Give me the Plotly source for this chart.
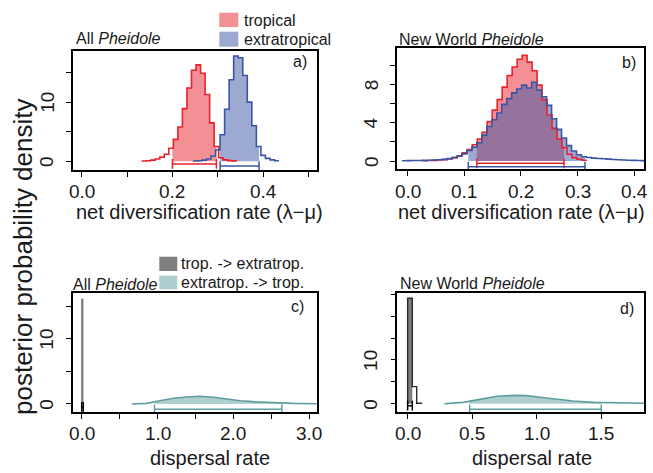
import numpy as np
import plotly.graph_objects as go

W, H = 653, 473

# ---------------- data ----------------
# Panel a (All Pheidole): net diversification posterior histograms
a_bin = 0.01
a_trop_start = 0.132
a_trop_dens = [0.05, 0.1, 0.2, 0.4, 0.7, 1.2, 2.2, 3.7, 5.8, 8.9, 12.4, 15.4, 16.3,
               14.9, 11.3, 6.5, 2.5, 0.6, 0.25, 0.12, 0.08]
a_extra_start = 0.245
a_extra_dens = [0.05, 0.1, 0.2, 0.4, 0.9, 1.9, 4.5, 8.8, 13.8, 17.8, 17.5, 14.5,
                10.0, 6.0, 2.5, 1.0, 0.5, 0.25, 0.1]
a_trop_hpd = [0.200, 0.297]
a_extra_hpd = [0.305, 0.391]

# Panel b (New World Pheidole)
b_bin = 0.0088
b_trop_start = 0.026
b_trop_dens = [0.03, 0.05, 0.07, 0.1, 0.15, 0.22, 0.35, 0.55, 0.85, 1.2, 1.7, 2.3,
               3.0, 4.1, 5.3, 6.4, 7.7, 8.9, 9.8, 10.6, 11.0, 10.3, 9.4, 7.9, 6.4,
               4.8, 3.4, 2.3, 1.4, 0.7, 0.35, 0.18, 0.08]
b_extra_start = -0.010
b_extra_dens = [0.03, 0.04, 0.05, 0.06, 0.07, 0.08, 0.1, 0.13, 0.17, 0.25, 0.35,
                0.5, 0.75, 1.1, 1.45, 1.9, 2.7, 3.6, 4.3, 5.0, 5.9, 6.5, 7.1, 7.5,
                7.9, 7.6, 8.2, 7.4, 6.7, 5.8, 4.4, 3.3, 2.4, 1.6, 1.05, 0.65, 0.45,
                0.36, 0.3, 0.27, 0.23, 0.2, 0.16, 0.13, 0.1, 0.08, 0.07, 0.05, 0.04]
b_trop_hpd = [0.122, 0.276]
b_extra_hpd = [0.107, 0.313]

# Panel c (All Pheidole): dispersal rates
c_t2e_edges = [0.0, 0.015]
c_t2e_dens = [16.1]
c_t2e_hpd = [0.0, 0.02]
c_e2t_x = [0.66, 0.86, 1.03, 1.21, 1.385, 1.56, 1.74, 1.91, 2.09, 2.26, 2.44, 2.62, 2.79, 3.1, 3.3]
c_e2t_y = [0.0, 0.1, 0.5, 0.87, 1.08, 1.18, 1.03, 0.72, 0.5, 0.36, 0.26, 0.2, 0.1, 0.03, 0.01]
c_e2t_hpd = [0.96, 2.64]

# Panel d (New World Pheidole)
d_t2e_edges = [0.0, 0.036, 0.07, 0.108]
d_t2e_dens = [24.1, 3.9, 0.1]
d_t2e_hpd = [0.0, 0.036]
d_e2t_x = [0.284, 0.43, 0.56, 0.69, 0.82, 0.92, 1.025, 1.154, 1.28, 1.44, 1.59, 1.83, 2.0]
d_e2t_y = [0.0, 0.3, 1.0, 1.7, 1.9, 1.85, 1.46, 1.0, 0.62, 0.3, 0.15, 0.05, 0.02]
d_e2t_hpd = [0.48, 1.5]

# ticks
a_xticks = [0.0, 0.1, 0.2, 0.3, 0.4, 0.5]
a_xlabels = ["0.0", "", "0.2", "", "0.4", ""]
a_yticks = [0, 5, 10, 15]
a_ylabels = ["0", "", "10", ""]
b_xticks = [0.0, 0.1, 0.2, 0.3, 0.4]
b_xlabels = ["0.0", "0.1", "0.2", "0.3", "0.4"]
b_yticks = [0, 2, 4, 6, 8, 10]
b_ylabels = ["0", "", "4", "", "8", ""]
c_xticks = [0.0, 0.5, 1.0, 1.5, 2.0, 2.5, 3.0]
c_xlabels = ["0.0", "", "1.0", "", "2.0", "", "3.0"]
c_yticks = [0, 5, 10, 15]
c_ylabels = ["0", "", "10", ""]
d_xticks = [0.0, 0.5, 1.0, 1.5]
d_xlabels = ["0.0", "0.5", "1.0", "1.5"]
d_yticks = [0, 5, 10, 15, 20, 25]
d_ylabels = ["0", "", "10", "", "", ""]

# ---------------- styles ----------------
RED = "#e8222b"
BLUE = "#3a55a4"
RED_F = "rgba(232,34,43,0.5)"
BLUE_F = "rgba(58,85,164,0.5)"
TEAL = "#5f9ea0"
TEAL_F = "rgba(95,158,160,0.5)"
GRAY_F = "rgba(0,0,0,0.5)"
FONT = "Liberation Sans, Arial, sans-serif"
TXT = "#1a1a1a"


def edges_from(start, width, n):
    return [start + width * i for i in range(n + 1)]


def step_line(edges, dens):
    return list(edges), list(dens) + [dens[-1]]


def step_fill(edges, dens, lo, hi):
    def val(x):
        for i in range(len(dens)):
            if edges[i] <= x < edges[i + 1]:
                return dens[i]
        return dens[-1] if x >= edges[-1] else 0.0
    xs, ys = [lo], [val(lo)]
    for e in edges:
        if lo < e < hi:
            xs.append(e)
            ys.append(val(e))
    xs.append(hi)
    ys.append(ys[-1])
    return xs, ys


def smooth_fill(x, y, lo, hi):
    xs = [lo] + [v for v in x if lo < v < hi] + [hi]
    ys = list(np.interp(xs, x, y))
    return xs, ys


fig = go.Figure()


def add(tr, ax):
    tr.update(xaxis="x" + ax, yaxis="y" + ax, showlegend=False, hoverinfo="skip")
    fig.add_trace(tr)


def interval(lo, hi, yv, col, ax):
    add(go.Scatter(x=[lo, hi], y=[yv, yv], mode="lines+markers",
                   line=dict(color=col, width=1.5),
                   marker=dict(symbol="line-ns", size=7,
                               line=dict(color=col, width=1.5))), ax)


# panel a
ea_t = edges_from(a_trop_start, a_bin, len(a_trop_dens))
ea_e = edges_from(a_extra_start, a_bin, len(a_extra_dens))
for e, d, hpd, fc in [(ea_t, a_trop_dens, a_trop_hpd, RED_F), (ea_e, a_extra_dens, a_extra_hpd, BLUE_F)]:
    fx, fy = step_fill(e, d, *hpd)
    add(go.Scatter(x=fx, y=fy, mode="lines", line=dict(width=0, shape="hv"),
                   fill="tozeroy", fillcolor=fc), "")
for e, d, col in [(ea_t, a_trop_dens, RED), (ea_e, a_extra_dens, BLUE)]:
    lx, ly = step_line(e, d)
    add(go.Scatter(x=lx, y=ly, mode="lines", line=dict(color=col, width=1.6, shape="hv")), "")
interval(*a_trop_hpd, -0.45, RED, "")
interval(*a_extra_hpd, -0.80, BLUE, "")

# panel b
eb_t = edges_from(b_trop_start, b_bin, len(b_trop_dens))
eb_e = edges_from(b_extra_start, b_bin, len(b_extra_dens))
for e, d, hpd, fc in [(eb_t, b_trop_dens, b_trop_hpd, RED_F), (eb_e, b_extra_dens, b_extra_hpd, BLUE_F)]:
    fx, fy = step_fill(e, d, *hpd)
    add(go.Scatter(x=fx, y=fy, mode="lines", line=dict(width=0, shape="hv"),
                   fill="tozeroy", fillcolor=fc), "2")
for e, d, col in [(eb_t, b_trop_dens, RED), (eb_e, b_extra_dens, BLUE)]:
    lx, ly = step_line(e, d)
    add(go.Scatter(x=lx, y=ly, mode="lines", line=dict(color=col, width=1.6, shape="hv")), "2")
interval(*b_trop_hpd, -0.24, RED, "2")
interval(*b_extra_hpd, -0.59, BLUE, "2")

# panel c
fx, fy = smooth_fill(c_e2t_x, c_e2t_y, *c_e2t_hpd)
add(go.Scatter(x=fx, y=fy, mode="lines", line=dict(width=0), fill="tozeroy", fillcolor=TEAL_F), "3")
add(go.Scatter(x=c_e2t_x, y=c_e2t_y, mode="lines", line=dict(color=TEAL, width=1.6)), "3")
lx, ly = step_line(c_t2e_edges, c_t2e_dens)
add(go.Scatter(x=[lx[0]] + lx + [lx[-1]], y=[0] + ly + [0], mode="lines",
               line=dict(color="#808080", width=1.2, shape="hv"),
               fill="toself", fillcolor=GRAY_F), "3")
interval(*c_e2t_hpd, -0.82, TEAL, "3")
interval(*c_t2e_hpd, -0.45, "#000000", "3")

# panel d
fx, fy = smooth_fill(d_e2t_x, d_e2t_y, *d_e2t_hpd)
add(go.Scatter(x=fx, y=fy, mode="lines", line=dict(width=0), fill="tozeroy", fillcolor=TEAL_F), "4")
add(go.Scatter(x=d_e2t_x, y=d_e2t_y, mode="lines", line=dict(color=TEAL, width=1.6)), "4")
fx, fy = step_fill(d_t2e_edges, d_t2e_dens, *d_t2e_hpd)
add(go.Scatter(x=fx, y=fy, mode="lines", line=dict(width=0, shape="hv"),
               fill="tozeroy", fillcolor=GRAY_F), "4")
lx, ly = step_line(d_t2e_edges, d_t2e_dens)
add(go.Scatter(x=[lx[0]] + lx + [lx[-1]], y=[0] + ly + [0], mode="lines",
               line=dict(color="#2a2a2a", width=1.4, shape="hv")), "4")
interval(*d_e2t_hpd, -1.28, TEAL, "4")
interval(*d_t2e_hpd, -0.45, "#000000", "4")


def px_x(v):
    return v / W


def px_y(v):
    return 1 - v / H


def ax(dom, rng, tv):
    return dict(domain=dom, range=rng, tickvals=tv, showticklabels=False, showgrid=False,
                zeroline=False, showline=True, mirror=True, linecolor="black",
                linewidth=1.5, ticks="outside", ticklen=5, tickwidth=1.3,
                tickcolor="black")


dom_a_x = [px_x(72.7), px_x(316.7)]
dom_b_x = [px_x(396.7), px_x(644.3)]
dom_d_x = [px_x(397.3), px_x(644.3)]
dom_top_y_a = [px_y(170), px_y(50.7)]
dom_top_y_b = [px_y(169), px_y(48.3)]
dom_bot_y = [px_y(412.3), px_y(292.5)]

fig.update_layout(
    width=W, height=H, autosize=False,
    margin=dict(l=0, r=0, t=0, b=0),
    paper_bgcolor="white", plot_bgcolor="white",
    xaxis=dict(ax(dom_a_x, [-0.0198, 0.518], a_xticks), anchor="y"),
    yaxis=dict(ax(dom_top_y_a, [-1.47, 18.7], a_yticks), anchor="x"),
    xaxis2=dict(ax(dom_b_x, [-0.0194, 0.4177], b_xticks), anchor="y2"),
    yaxis2=dict(ax(dom_top_y_b, [-0.83, 11.74], b_yticks), anchor="x2"),
    xaxis3=dict(ax(dom_a_x, [-0.119, 3.1], c_xticks), anchor="y3"),
    yaxis3=dict(ax(dom_bot_y, [-1.28, 17.15], c_yticks), anchor="x3"),
    xaxis4=dict(ax(dom_d_x, [-0.08, 1.833], d_xticks), anchor="y4"),
    yaxis4=dict(ax(dom_bot_y, [-1.96, 25.4], d_yticks), anchor="x4"),
)

ann = []


def text(t, x, y, xa="left", size=16, angle=0, xref="paper", yref="paper"):
    ann.append(dict(text=t, x=px_x(x) if xref == "paper" else x,
                    y=px_y(y) if yref == "paper" else y, xref=xref, yref=yref,
                    xanchor=xa, yanchor="middle", showarrow=False, textangle=angle,
                    font=dict(family=FONT, size=size, color=TXT)))


# tick labels placed at the axes' own tick values
for suf, xt, xl, ypx in [("", a_xticks, a_xlabels, 191.5), ("2", b_xticks, b_xlabels, 191.5),
                         ("3", c_xticks, c_xlabels, 433.3), ("4", d_xticks, d_xlabels, 433.3)]:
    for v, lab in zip(xt, xl):
        if lab:
            text(lab, v, ypx, xa="center", size=19, xref="x" + suf)
for suf, yt, yl, xpx in [("", a_yticks, a_ylabels, 46.7), ("2", b_yticks, b_ylabels, 371),
                         ("3", c_yticks, c_ylabels, 46.7), ("4", d_yticks, d_ylabels, 371)]:
    for v, lab in zip(yt, yl):
        if lab:
            text(lab, xpx, v, xa="center", size=19, angle=-90, yref="y" + suf)

text("All <i>Pheidole</i>", 74, 38.3)
text("tropical", 242, 20)
text("extratropical", 242, 39)
text("a)", 309, 61.7, xa="right")
text("New World <i>Pheidole</i>", 397, 40)
text("b)", 638, 62.7, xa="right")
text("net diversification rate (λ−μ)", 199, 211.7, xa="center", size=20)
text("net diversification rate (λ−μ)", 521, 211.7, xa="center", size=20)
text("dispersal rate", 210, 458.3, xa="center", size=20)
text("dispersal rate", 531.7, 458.3, xa="center", size=20)
text("trop. -> extratrop.", 179, 263.5)
text("extratrop. -> trop.", 179, 282.5)
text("All <i>Pheidole</i>", 70.5, 284)
text("c)", 306, 306, xa="right")
text("New World <i>Pheidole</i>", 398, 283.3)
text("d)", 636, 308.3, xa="right")
text("posterior probability density", 22.5, 256.5, xa="center", size=26, angle=-90)

shapes = []


def box(x0, y0, x1, y1, col):
    shapes.append(dict(type="rect", xref="paper", yref="paper", x0=px_x(x0), x1=px_x(x1),
                       y0=px_y(y1), y1=px_y(y0), fillcolor=col, line=dict(width=0)))


box(219.3, 12.7, 238.3, 27.0, RED_F)
box(219.3, 31.7, 238.3, 46.7, BLUE_F)
box(159.3, 256.7, 177.3, 271.0, "#808080")
box(159.3, 275.7, 177.3, 289.3, TEAL_F)

fig.update_layout(annotations=ann, shapes=shapes)
fig.write_html("out.html", config={"displayModeBar": False},
               post_script="document.body.style.margin='0';document.body.style.overflow='hidden';")
